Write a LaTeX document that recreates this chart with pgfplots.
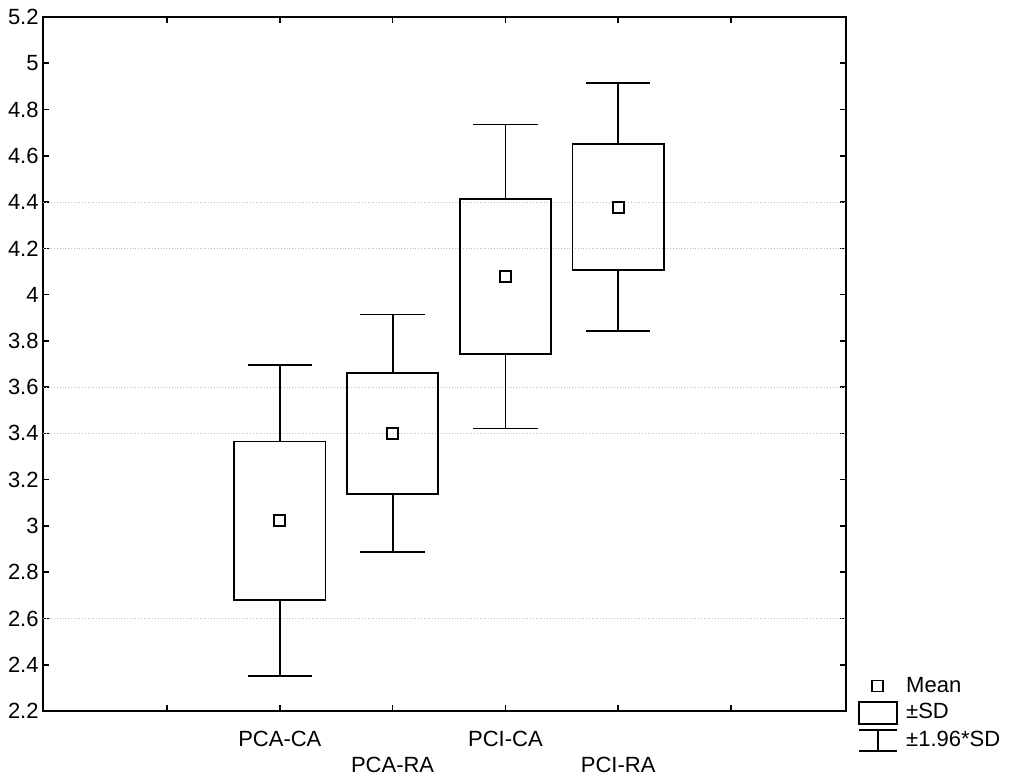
\documentclass[border=0pt]{standalone}
\usepackage{fontspec}
\setmainfont{Liberation Sans}
\usepackage{pgfplots}
\pgfplotsset{compat=1.18}
\usepgfplotslibrary{statistics}
\begin{document}
\fontsize{11}{13.5}\selectfont
\begin{tikzpicture}
\path[use as bounding box] (-21.5pt,-32.5pt) rectangle (483pt,355.5pt);
\begin{axis}[
  at={(0,0)}, anchor=south west,
  scale only axis, width=401.5pt, height=347pt,
  xmin=-1.1, xmax=6.02, ymin=2.2, ymax=5.2,
  xtick={0,1,2,3,4,5},
  xticklabels={{},{PCA-CA},{\mbox{}\\[7.5pt]PCA-RA},{PCI-CA},{\mbox{}\\[7.5pt]PCI-RA},{}},
  xticklabel style={align=center, yshift=-6pt},
  ytick={2.2,2.4,...,5.21},
  yticklabel style={inner xsep=2pt},
  /pgf/number format/assume math mode=true,
  tick label style={font=\fontsize{11}{13.5}\selectfont},
  tick align=inside,
  major tick length=3pt,
  every tick/.style={black, line width=0.8pt},
  axis line style={line width=1.2pt},
  extra y ticks={2.6,3.4,3.6,4.2,4.4},
  extra y tick labels={},
  extra y tick style={grid=major, major tick length=0pt,
     major grid style={gray!50, densely dotted, line width=0.4pt}},
  boxplot/draw direction=y,
  boxplot/box extend=0.81,
  boxplot/whisker extend=0.57,
  boxplot/draw/median/.code={},
  boxplot/every average/.style={/tikz/mark=square, /tikz/mark size=2.75pt,
     /tikz/mark options={solid, line width=0.75pt}},
  legend style={at={(1.015,0.052)}, anchor=north west, draw=none, fill=none,
     inner sep=0pt, row sep=2pt, font=\fontsize{11}{13.5}\selectfont,
     nodes={inner ysep=0.8pt, inner xsep=4pt}},
  legend cell align=left,
]
\addplot[forget plot, black, line width=0.9pt, boxplot prepared={draw position=1,
  lower whisker=2.350, lower quartile=2.679, median=3.022, average=3.022,
  upper quartile=3.365, upper whisker=3.694}] coordinates {};
\addplot[forget plot, black, line width=0.9pt, boxplot prepared={draw position=2,
  lower whisker=2.886, lower quartile=3.138, median=3.400, average=3.400,
  upper quartile=3.662, upper whisker=3.914}] coordinates {};
\addplot[forget plot, black, line width=0.9pt, boxplot prepared={draw position=3,
  lower whisker=3.421, lower quartile=3.743, median=4.078, average=4.078,
  upper quartile=4.413, upper whisker=4.735}] coordinates {};
\addplot[forget plot, black, line width=0.9pt, boxplot prepared={draw position=4,
  lower whisker=3.843, lower quartile=4.105, median=4.378, average=4.378,
  upper quartile=4.651, upper whisker=4.913}] coordinates {};
\addlegendimage{legend image code/.code={\draw[black, line width=0.75pt] (6.25pt,-2.75pt) rectangle (11.75pt,2.75pt); \path[draw=none] (0pt,0pt) (19pt,0pt);}}
\addlegendentry{Mean}
\addlegendimage{legend image code/.code={\draw[black, line width=0.9pt] (0pt,-5.5pt) rectangle (19pt,5.5pt);}}
\addlegendentry{±SD}
\addlegendimage{legend image code/.code={\draw[black, line width=0.9pt] (0pt,5.25pt) -- (19pt,5.25pt) (9.5pt,5.25pt) -- (9.5pt,-5.25pt) (0pt,-5.25pt) -- (19pt,-5.25pt);}}
\addlegendentry{±1.96*SD}
\end{axis}
\end{tikzpicture}
\end{document}
